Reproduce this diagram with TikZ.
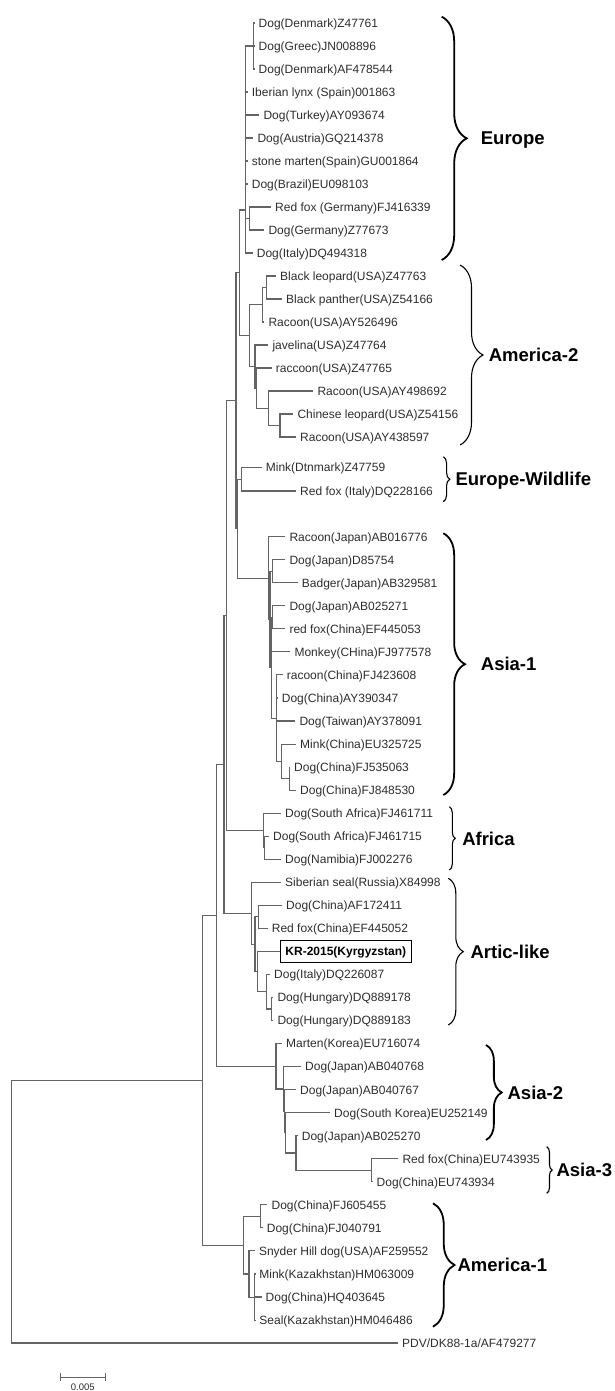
\documentclass[tikz,border=0pt]{standalone}
\usepackage{fontspec}
\setmainfont{Liberation Sans}
\usetikzlibrary{decorations.pathreplacing,arrows.meta}
\definecolor{branchgray}{RGB}{100,100,100}
\definecolor{leafgray}{RGB}{45,45,45}
\tikzstyle{branch} = [draw=branchgray, line width=1.1pt]
\tikzstyle{leaf} = [anchor=west, inner xsep=4pt, inner ysep=0pt, text height=8.6pt, text depth=0pt, text=leafgray, font=\fontsize{12}{14}\selectfont]
\tikzstyle{kr_box} = [draw=black, line width=0.9pt, anchor=west, inner xsep=5pt, text height=8.6pt, text depth=0pt, minimum height=22pt, font=\fontsize{12}{14}\selectfont\bfseries]
\tikzstyle{clade} = [anchor=west, inner sep=0pt, text height=13.3pt, text depth=0pt, font=\fontsize{18.5}{20}\selectfont\bfseries]
\tikzstyle{brace_thick} = [draw, line width=1.8pt, decorate]
\tikzstyle{brace_thin} = [draw, line width=1.1pt, decorate]
\tikzstyle{scale_bar} = [draw=branchgray, line width=1pt, {Bar[width=8pt]}-{Bar[width=8pt]}]
\tikzstyle{bar_label} = [inner sep=0pt, text height=7pt, text depth=0pt, text=leafgray, font=\fontsize{9.5}{11}\selectfont]

\begin{document}
\begin{tikzpicture}[x=1pt, y=-1pt]
		\useasboundingbox (0,0) rectangle (615,1391);

		\node [leaf] (eu1) at (254.5,23) {Dog(Denmark)Z47761};
		\node [leaf] (eu2) at (254.5,46) {Dog(Greec)JN008896};
		\node [leaf] (eu3) at (254.5,69) {Dog(Denmark)AF478544};
		\node [leaf] (eu4) at (247.7,92) {Iberian lynx (Spain)001863};
		\node [leaf] (eu5) at (259.3,115) {Dog(Turkey)AY093674};
		\node [leaf] (eu6) at (253.3,138) {Dog(Austria)GQ214378};
		\node [leaf] (eu7) at (247.7,161) {stone marten(Spain)GU001864};
		\node [leaf] (eu8) at (247.7,184) {Dog(Brazil)EU098103};
		\node [leaf] (eu9) at (271,207) {Red fox (Germany)FJ416339};
		\node [leaf] (eu10) at (264.3,230) {Dog(Germany)Z77673};
		\node [leaf] (eu11) at (252.7,253) {Dog(Italy)DQ494318};

		\node [leaf] (am1) at (276,276) {Black leopard(USA)Z47763};
		\node [leaf] (am2) at (282,299) {Black panther(USA)Z54166};
		\node [leaf] (am3) at (264.3,322) {Racoon(USA)AY526496};
		\node [leaf] (am4) at (268.3,345) {javelina(USA)Z47764};
		\node [leaf] (am5) at (271.7,368) {raccoon(USA)Z47765};
		\node [leaf] (am6) at (313.3,391) {Racoon(USA)AY498692};
		\node [leaf] (am7) at (293.3,414) {Chinese leopard(USA)Z54156};
		\node [leaf] (am8) at (296,437) {Racoon(USA)AY438597};

		\node [leaf] (ew1) at (261.7,467.5) {Mink(Dtnmark)Z47759};
		\node [leaf] (ew2) at (296,491) {Red fox (Italy)DQ228166};

		\node [leaf] (as1) at (285.3,536.7) {Racoon(Japan)AB016776};
		\node [leaf] (as2) at (285.3,559.7) {Dog(Japan)D85754};
		\node [leaf] (as3) at (297.7,582.8) {Badger(Japan)AB329581};
		\node [leaf] (as4) at (285.3,605.8) {Dog(Japan)AB025271};
		\node [leaf] (as5) at (285.3,628.9) {red fox(China)EF445053};
		\node [leaf] (as6) at (290.3,651.9) {Monkey(CHina)FJ977578};
		\node [leaf] (as7) at (282.7,674.9) {racoon(China)FJ423608};
		\node [leaf] (as8) at (277.7,698) {Dog(China)AY390347};
		\node [leaf] (as9) at (295.3,721) {Dog(Taiwan)AY378091};
		\node [leaf] (as10) at (296,744.1) {Mink(China)EU325725};
		\node [leaf] (as11) at (290,767.1) {Dog(China)FJ535063};
		\node [leaf] (as12) at (296,790.1) {Dog(China)FJ848530};

		\node [leaf] (af1) at (281,813.2) {Dog(South Africa)FJ461711};
		\node [leaf] (af2) at (269,836.2) {Dog(South Africa)FJ461715};
		\node [leaf] (af3) at (281,859.3) {Dog(Namibia)FJ002276};

		\node [leaf] (ar1) at (281,882.3) {Siberian seal(Russia)X84998};
		\node [leaf] (ar2) at (282,905.3) {Dog(China)AF172411};
		\node [leaf] (ar3) at (267.7,928.4) {Red fox(China)EF445052};
		\node [kr_box] (ar4) at (280,951.4) {KR-2015(Kyrgyzstan)};
		\node [leaf] (ar5) at (270,974.5) {Dog(Italy)DQ226087};
		\node [leaf] (ar6) at (273.3,997.5) {Dog(Hungary)DQ889178};
		\node [leaf] (ar7) at (273.3,1020.5) {Dog(Hungary)DQ889183};

		\node [leaf] (sa1) at (282,1043.6) {Marten(Korea)EU716074};
		\node [leaf] (sa2) at (301,1066.6) {Dog(Japan)AB040768};
		\node [leaf] (sa3) at (296,1089.7) {Dog(Japan)AB040767};
		\node [leaf] (sa4) at (330,1112.7) {Dog(South Korea)EU252149};
		\node [leaf] (sa5) at (297.7,1135.7) {Dog(Japan)AB025270};
		\node [leaf] (sa6) at (398.3,1158.8) {Red fox(China)EU743935};
		\node [leaf] (sa7) at (372.5,1181.8) {Dog(China)EU743934};

		\node [leaf] (ab1) at (267.4,1204.9) {Dog(China)FJ605455};
		\node [leaf] (ab2) at (262.7,1227.9) {Dog(China)FJ040791};
		\node [leaf] (ab3) at (254.8,1250.9) {Snyder Hill dog(USA)AF259552};
		\node [leaf] (ab4) at (255.2,1274) {Mink(Kazakhstan)HM063009};
		\node [leaf] (ab5) at (261.5,1297) {Dog(China)HQ403645};
		\node [leaf] (ab6) at (255.2,1320.1) {Seal(Kazakhstan)HM046486};
		\node [leaf] (pdv) at (398,1343) {PDV/DK88-1a/AF479277};

		\coordinate (n_root) at (11.7,1211.7);
		\coordinate (n1) at (202.5,1080.3);
		\coordinate (n2) at (216.7,915.4);
		\coordinate (n3) at (224,764.4);
		\coordinate (n3a) at (226.7,615.6);
		\coordinate (n4) at (236,400.8);
		\coordinate (n4a) at (237.5,528.7);
		\coordinate (n5) at (239.3,272.8);
		\coordinate (n_eu) at (245.7,210);
		\coordinate (n_dk) at (253.3,46);
		\coordinate (n_de) at (249.3,218.5);
		\coordinate (n_am) at (249.3,335.7);
		\coordinate (n_rc) at (262.3,304.8);
		\coordinate (n_bl) at (266.7,287.5);
		\coordinate (n_jv) at (255,366.6);
		\coordinate (n_jv2) at (256.5,388.1);
		\coordinate (n_rg) at (268.3,408.3);
		\coordinate (n_cl) at (280,425.5);
		\coordinate (n_ew) at (241.7,479.3);
		\coordinate (n_as) at (268.3,578.1);
		\coordinate (n_y) at (270,619.5);
		\coordinate (n_jb) at (272.7,571.3);
		\coordinate (n_k) at (271.7,667.7);
		\coordinate (n_dr) at (272.7,617.4);
		\coordinate (n_t) at (276.7,718.1);
		\coordinate (n_m) at (281.7,761.4);
		\coordinate (n_f) at (289.3,778.6);
		\coordinate (n_af) at (263.3,830.5);
		\coordinate (n_af2) at (264.3,847.8);
		\coordinate (n_ar) at (251.7,913.3);
		\coordinate (n_ar2) at (255,944.2);
		\coordinate (n_dr2) at (258.3,916.9);
		\coordinate (n_ki) at (257.3,971.6);
		\coordinate (n_it) at (266.7,991.8);
		\coordinate (n_hu) at (271.7,1009);
		\coordinate (n_s) at (276,1066.3);
		\coordinate (n_s2) at (283.3,1089);
		\coordinate (n_s3) at (284.3,1111.3);
		\coordinate (n_s4) at (285.5,1132.9);
		\coordinate (n_s5) at (296,1153);
		\coordinate (n_s6) at (371.7,1170.3);
		\coordinate (n_a1) at (243.1,1245.2);
		\coordinate (n_cn) at (260.8,1216.4);
		\coordinate (n_sh) at (249,1274);
		\coordinate (n_kz) at (254.9,1297.1);

		\path [branch] (n_root) |- (n1) (n_root) |- (pdv.west);
		\path [branch] (n1) |- (n2) (n1) |- (n_a1);
		\path [branch] (n2) |- (n3) (n2) |- (n_s);
		\path [branch] (n3) |- (n3a) (n3) |- (n_ar);
		\path [branch] (n3a) |- (n4) (n3a) |- (n_af);
		\path [branch] (n4) |- (n5) (n4) |- (n4a);
		\path [branch] (n4a) |- (n_ew) (n4a) |- (n_as);
		\path [branch] (n5) |- (n_eu) (n5) |- (n_am);

		\path [branch] (n_eu) |- (n_dk) (n_eu) |- (eu4.west) (n_eu) |- (eu5.west) (n_eu) |- (eu6.west)
			(n_eu) |- (eu7.west) (n_eu) |- (eu8.west) (n_eu) |- (n_de) (n_eu) |- (eu11.west);
		\path [branch] (n_dk) |- (eu1.west) (n_dk) |- (eu2.west) (n_dk) |- (eu3.west);
		\path [branch] (n_de) |- (eu9.west) (n_de) |- (eu10.west);

		\path [branch] (n_am) |- (n_rc) (n_am) |- (n_jv);
		\path [branch] (n_rc) |- (n_bl) (n_rc) |- (am3.west);
		\path [branch] (n_bl) |- (am1.west) (n_bl) |- (am2.west);
		\path [branch] (n_jv) |- (am4.west) (n_jv) |- (n_jv2);
		\path [branch] (n_jv2) |- (am5.west) (n_jv2) |- (n_rg);
		\path [branch] (n_rg) |- (am6.west) (n_rg) |- (n_cl);
		\path [branch] (n_cl) |- (am7.west) (n_cl) |- (am8.west);

		\path [branch] (n_ew) |- (ew1.west) (n_ew) |- (ew2.west);

		\path [branch] (n_as) |- (as1.west) (n_as) |- (n_y);
		\path [branch] (n_y) |- (n_jb) (n_y) |- (n_k);
		\path [branch] (n_jb) |- (as2.west) (n_jb) |- (as3.west);
		\path [branch] (n_k) |- (n_dr) (n_k) |- (as6.west) (n_k) |- (n_t);
		\path [branch] (n_dr) |- (as4.west) (n_dr) |- (as5.west);
		\path [branch] (n_t) |- (as7.west) (n_t) |- (as8.west) (n_t) |- (as9.west) (n_t) |- (n_m);
		\path [branch] (n_m) |- (as10.west) (n_m) |- (n_f);
		\path [branch] (n_f) |- (as11.west) (n_f) |- (as12.west);

		\path [branch] (n_af) |- (af1.west) (n_af) |- (n_af2);
		\path [branch] (n_af2) |- (af2.west) (n_af2) |- (af3.west);

		\path [branch] (n_ar) |- (ar1.west) (n_ar) |- (n_ar2);
		\path [branch] (n_ar2) |- (n_dr2) (n_ar2) |- (n_ki);
		\path [branch] (n_dr2) |- (ar2.west) (n_dr2) |- (ar3.west);
		\path [branch] (n_ki) |- (ar4.west) (n_ki) |- (n_it);
		\path [branch] (n_it) |- (ar5.west) (n_it) |- (n_hu);
		\path [branch] (n_hu) |- (ar6.west) (n_hu) |- (ar7.west);

		\path [branch] (n_s) |- (sa1.west) (n_s) |- (n_s2);
		\path [branch] (n_s2) |- (sa2.west) (n_s2) |- (n_s3);
		\path [branch] (n_s3) |- (sa3.west) (n_s3) |- (n_s4);
		\path [branch] (n_s4) |- (sa4.west) (n_s4) |- (n_s5);
		\path [branch] (n_s5) |- (sa5.west) (n_s5) |- (n_s6);
		\path [branch] (n_s6) |- (sa6.west) (n_s6) |- (sa7.west);

		\path [branch] (n_a1) |- (n_cn) (n_a1) |- (n_sh);
		\path [branch] (n_cn) |- (ab1.west) (n_cn) |- (ab2.west);
		\path [branch] (n_sh) |- (ab3.west) (n_sh) |- (n_kz);
		\path [branch] (n_kz) |- (ab4.west) (n_kz) |- (ab5.west) (n_kz) |- (ab6.west);

		\draw [brace_thick, decoration={brace, amplitude=25pt}] (441.7,16.7) -- (441.7,260) node [clade, midway, xshift=38.3pt] (lab_eu) {Europe};
		\draw [brace_thin, decoration={brace, amplitude=23pt}] (460,265) -- (460,445) node [clade, midway, xshift=28.3pt] (lab_am2) {America-2};
		\draw [brace_thin, decoration={brace, amplitude=6.5pt}] (443.3,456.7) -- (443.3,501.7) node [clade, midway, xshift=11.7pt] (lab_ew) {Europe-Wildlife};
		\draw [brace_thick, decoration={brace, amplitude=21.7pt}] (443.3,533.3) -- (443.3,795) node [clade, midway, xshift=36.7pt] (lab_as1) {Asia-1};
		\draw [brace_thin, decoration={brace, amplitude=6pt}] (449.3,806.7) -- (449.3,870) node [clade, midway, xshift=12.4pt] (lab_af) {Africa};
		\draw [brace_thin, decoration={brace, amplitude=15pt}] (448.3,878.3) -- (448.3,1025) node [clade, midway, xshift=21.7pt] (lab_ar) {Artic-like};
		\draw [brace_thick, decoration={brace, amplitude=15.7pt}] (486,1045) -- (486,1140) node [clade, midway, xshift=20.7pt] (lab_as2) {Asia-2};
		\draw [brace_thin, decoration={brace, amplitude=5.5pt}] (546.7,1146.7) -- (546.7,1193.3) node [clade, midway, xshift=9.3pt] (lab_as3) {Asia-3};
		\draw [brace_thick, decoration={brace, amplitude=21.5pt}] (433,1203.3) -- (433,1326.7) node [clade, midway, xshift=23.7pt] (lab_am1) {America-1};

		\coordinate (sb_l) at (59.6,1377);
		\coordinate (sb_r) at (105.9,1377);
		\path [scale_bar] (sb_l) -- (sb_r);
		\node [bar_label] (sb_lab) at (82.75,1387) {0.005};
\end{tikzpicture}
\end{document}
